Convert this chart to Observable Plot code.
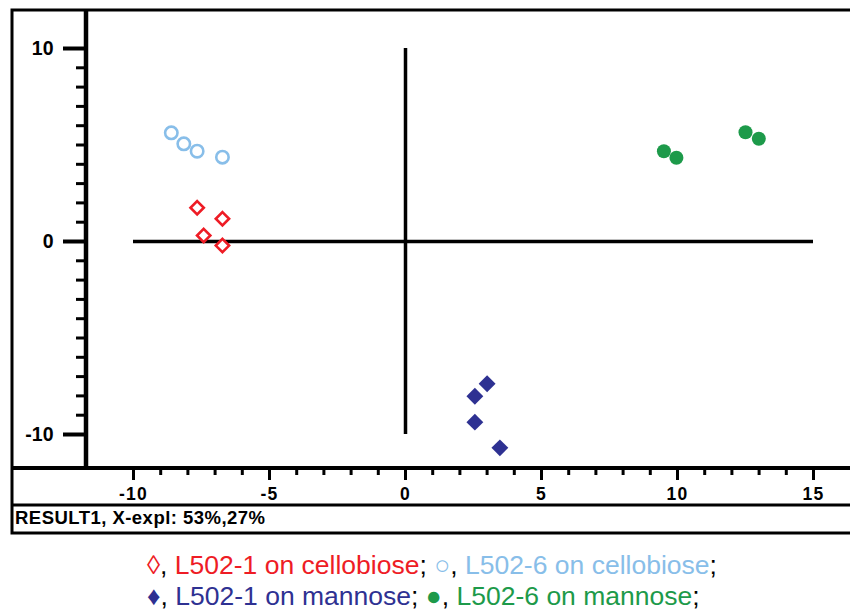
<!DOCTYPE html>
<html>
<head>
<meta charset="utf-8">
<script src="https://cdn.jsdelivr.net/npm/d3@7"></script>
<script src="https://cdn.jsdelivr.net/npm/@observablehq/plot@0.6"></script>
<style>
  html, body { margin: 0; padding: 0; background: white; }
  #chart svg { display: block; }
  [aria-label="x-axis tick label"] { font-family: "Liberation Sans", Arial, sans-serif; font-weight: bold; font-size: 17.5px; letter-spacing: 1.2px; }
  [aria-label="y-axis tick label"] { font-family: "Liberation Sans", Arial, sans-serif; font-weight: bold; font-size: 19.5px; }
  .legend { font-family: "Liberation Sans", Arial, sans-serif; font-size: 26.5px; line-height: 31px; padding-left: 147px; margin-top: 14px; color: black; white-space: nowrap; }
</style>
</head>
<body>
<div id="chart"></div>
<script>
// ---- data ----
const seriesNames = ["L502-1 on cellobiose", "L502-6 on cellobiose", "L502-1 on mannose", "L502-6 on mannose"];
const seriesSymbols = ["\u25CA", "\u25CB", "\u2666", "\u25CF"];
const seriesColors = ["#ee1c25", "#88bee9", "#2e3192", "#1d9a4a"];

const cello1X = [-7.66, -6.73, -7.42, -6.73];
const cello1Y = [1.75, 1.18, 0.31, -0.21];
const cello6X = [-8.61, -8.15, -7.66, -6.73];
const cello6Y = [5.63, 5.06, 4.68, 4.37];
const manno1X = [3.00, 2.55, 2.55, 3.47];
const manno1Y = [-7.37, -8.02, -9.36, -10.69];
const manno6X = [9.50, 9.96, 12.50, 12.99];
const manno6Y = [4.68, 4.34, 5.66, 5.32];

const xTicks = [-10, -5, 0, 5, 10, 15];
const yTicks = [-10, 0, 10];
const xExtent = [-10, 15];
const yExtent = [-10, 10];
const footerText = "RESULT1, X-expl: 53%,27%";

const pts = (xs, ys) => xs.map((x, i) => ({x, y: ys[i]}));
const cello1 = pts(cello1X, cello1Y);
const cello6 = pts(cello6X, cello6Y);
const manno1 = pts(manno1X, manno1Y);
const manno6 = pts(manno6X, manno6Y);

const W = 850, H = 536;
const plot = Plot.plot({
  width: W,
  height: H,
  marginTop: 12,
  marginLeft: 86,
  marginRight: 0,
  marginBottom: 68,
  style: {background: "white", color: "black"},
  x: {domain: xExtent, range: [133, 813], label: null},
  y: {domain: yExtent, range: [434, 48], label: null},
  marks: [
    // center cross
    Plot.ruleY([0], {x1: xExtent[0], x2: xExtent[1], stroke: "black", strokeWidth: 3.5}),
    Plot.ruleX([0], {y1: yExtent[0], y2: yExtent[1], stroke: "black", strokeWidth: 3.5}),
    // x axis: minor + major ticks
    Plot.axisX(d3.range(xExtent[0], xExtent[1] + 1), {anchor: "bottom", tickSize: 7, strokeWidth: 3, stroke: "black", tickFormat: () => "", label: null}),
    Plot.axisX(xTicks, {anchor: "bottom", tickSize: 12, tickPadding: 7, strokeWidth: 3, stroke: "black", fill: "black", tickFormat: d => String(d), label: null}),
    // y axis: minor + major ticks
    Plot.axisY(d3.range(yExtent[0], yExtent[1] + 1), {anchor: "left", tickSize: 10, strokeWidth: 3, stroke: "black", tickFormat: () => "", label: null}),
    Plot.axisY(yTicks, {anchor: "left", tickSize: 23, tickPadding: 10, strokeWidth: 4, stroke: "black", fill: "black", tickFormat: d => String(d), label: null}),
    // data
    Plot.dot(cello6, {x: "x", y: "y", r: 6.2, stroke: seriesColors[1], strokeWidth: 2.6, fill: "none"}),
    Plot.dot(cello1, {x: "x", y: "y", r: 6.0, symbol: "diamond2", stroke: seriesColors[0], strokeWidth: 2.6, fill: "white"}),
    Plot.dot(manno1, {x: "x", y: "y", r: 7.6, symbol: "diamond2", fill: seriesColors[2], stroke: "none"}),
    Plot.dot(manno6, {x: "x", y: "y", r: 7, fill: seriesColors[3], stroke: "none"})
  ]
});

// frame decoration (non-data)
const svg = d3.select(plot);
const deco = svg.append("g").attr("fill", "none").attr("stroke", "black");
deco.append("rect").attr("x", 12).attr("y", 10).attr("width", W + 10).attr("height", 523).attr("stroke-width", 3);
deco.append("line").attr("x1", 86).attr("x2", 86).attr("y1", 10).attr("y2", 468).attr("stroke-width", 4.5);
deco.append("line").attr("x1", 12).attr("x2", W).attr("y1", 468).attr("y2", 468).attr("stroke-width", 4);
deco.append("line").attr("x1", 12).attr("x2", W).attr("y1", 505).attr("y2", 505).attr("stroke-width", 3);
svg.append("text")
  .attr("x", 15).attr("y", 523.5)
  .attr("text-anchor", "start")
  .attr("textLength", 250).attr("lengthAdjust", "spacing")
  .style("font-family", "'Liberation Sans', Arial, sans-serif")
  .style("font-weight", "bold").style("font-size", "18.5px")
  .attr("fill", "black")
  .text(footerText);

document.getElementById("chart").appendChild(plot);

// legend
const legend = d3.select("#chart").append("div").attr("class", "legend");
[[0, 1], [2, 3]].forEach(pair => {
  const line = legend.append("div");
  pair.forEach((k, j) => {
    if (j > 0) line.append("span").text(" ");
    line.append("span").style("color", seriesColors[k]).text(seriesSymbols[k]);
    line.append("span").text(", ");
    line.append("span").style("color", seriesColors[k]).text(seriesNames[k]);
    line.append("span").text(";");
  });
});
</script>
</body>
</html>
